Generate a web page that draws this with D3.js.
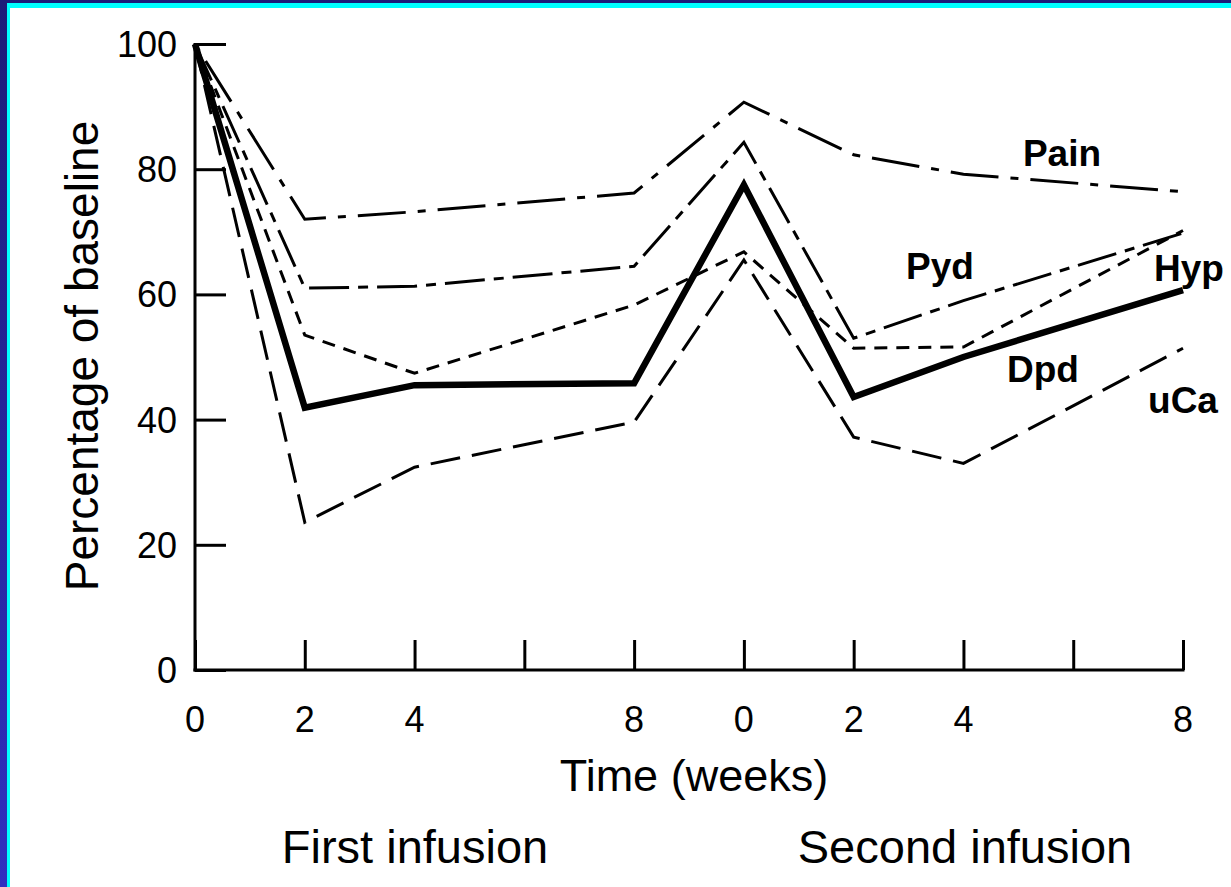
<!DOCTYPE html>
<html>
<head>
<meta charset="utf-8">
<script src="https://cdn.jsdelivr.net/npm/d3@7/dist/d3.min.js"></script>
<style>
  body { margin: 0; background: #fff; }
  svg { display: block; }
</style>
</head>
<body>
<div id="chart-area"></div>
<script>
// Time points: first infusion weeks, then second infusion weeks (offset by 10)
var weekLabels = ["0", "2", "4", "8", "0", "2", "4", "8"];
var weekPos = [0, 2, 4, 8, 10, 12, 14, 18];
var tickPos = [0, 2, 4, 6, 8, 10, 12, 14, 16, 18];
var tickText = ["0", "2", "4", "", "8", "0", "2", "4", "", "8"];
var yTicks = [0, 20, 40, 60, 80, 100];

// Percentage of baseline for each marker
var pain = [100, 72, 73.2, 76.2, 90.7, 82.3, 79.2, 76.4];
var pyd  = [100, 61, 61.3, 64.5, 84.3, 53, 59, 69.8];
var hyp  = [100, 53.5, 47.4, 58.3, 66.8, 51.4, 51.6, 70.2];
var dpd  = [100, 41.9, 45.5, 45.8, 77.5, 43.6, 50, 60.7];
var uca  = [100, 23.6, 32.4, 39.6, 65.5, 37.2, 33, 51.4];

var W = 1231, H = 887;
var x0 = 195, x1 = 1183, yTop = 44, yBot = 670;

var svg = d3.select("#chart-area").append("svg")
    .attr("width", W)
    .attr("height", H);

// Blue frame (top and left edges)
var grad = svg.append("defs").append("linearGradient")
    .attr("id", "navy").attr("x1", 0).attr("y1", 0).attr("x2", 0).attr("y2", 1);
grad.append("stop").attr("offset", "0%").attr("stop-color", "#1c1c78");
grad.append("stop").attr("offset", "100%").attr("stop-color", "#3030c0");

svg.append("rect").attr("width", W).attr("height", H).attr("fill", "url(#navy)");
svg.append("rect").attr("x", 7).attr("y", 3).attr("width", W).attr("height", H).attr("fill", "#00ffff");
svg.append("rect").attr("x", 10).attr("y", 8).attr("width", W).attr("height", H).attr("fill", "#fff");

// Scales
var x = d3.scaleLinear().domain([0, 18]).range([x0, x1]);
var y = d3.scaleLinear().domain([0, 100]).range([yBot, yTop]);

var font = "'Liberation Sans', Arial, sans-serif";

// Axes: ticks point inward
var yAxis = d3.axisRight(y).tickValues(yTicks).tickSize(31).tickFormat("");
var gy = svg.append("g")
    .attr("transform", "translate(" + x0 + ",0)")
    .call(yAxis);
gy.select(".domain").remove();
gy.selectAll("line").attr("stroke", "#000").attr("stroke-width", 3);

svg.append("line")
    .attr("x1", x0).attr("x2", x0)
    .attr("y1", y(100) - 1).attr("y2", y(0) + 1.5)
    .attr("stroke", "#000").attr("stroke-width", 3);

var xAxis = d3.axisTop(x).tickValues(tickPos).tickSize(30).tickFormat("");
var gx = svg.append("g")
    .attr("transform", "translate(0," + yBot + ")")
    .call(xAxis);
gx.select(".domain").remove();
gx.selectAll("line").attr("stroke", "#000").attr("stroke-width", 3);

svg.append("line")
    .attr("x1", x0 - 1.5).attr("x2", x1 + 1.5)
    .attr("y1", yBot).attr("y2", yBot)
    .attr("stroke", "#000").attr("stroke-width", 3);

// Tick labels
svg.selectAll(".ylab").data(yTicks).enter().append("text")
    .attr("class", "ylab")
    .attr("x", 177)
    .attr("y", function(d) { return y(d) + 13; })
    .attr("text-anchor", "end")
    .attr("font-family", font)
    .attr("font-size", "36px")
    .text(function(d) { return d; });

svg.selectAll(".xlab").data(tickPos).enter().append("text")
    .attr("class", "xlab")
    .attr("x", function(d) { return x(d); })
    .attr("y", 732)
    .attr("text-anchor", "middle")
    .attr("font-family", font)
    .attr("font-size", "36px")
    .text(function(d, i) { return tickText[i]; });

// Axis titles
svg.append("text")
    .attr("transform", "translate(98,356) rotate(-90)")
    .attr("text-anchor", "middle")
    .attr("font-family", font)
    .attr("font-size", "46px")
    .text("Percentage of baseline");

svg.append("text")
    .attr("x", 694).attr("y", 791)
    .attr("text-anchor", "middle")
    .attr("font-family", font)
    .attr("font-size", "45px")
    .text("Time (weeks)");

svg.append("text")
    .attr("x", 415).attr("y", 863)
    .attr("text-anchor", "middle")
    .attr("font-family", font)
    .attr("font-size", "47px")
    .text("First infusion");

svg.append("text")
    .attr("x", 965).attr("y", 863)
    .attr("text-anchor", "middle")
    .attr("font-family", font)
    .attr("font-size", "47px")
    .text("Second infusion");

// Lines
var line = d3.line()
    .x(function(d, i) { return x(weekPos[i]); })
    .y(function(d) { return y(d); });

var series = [
    { name: "Pain", values: pain, width: 3, dash: "8,12,48,12" },
    { name: "Pyd",  values: pyd,  width: 3, dash: "40,9,10,9" },
    { name: "Hyp",  values: hyp,  width: 3, dash: "13,9" },
    { name: "uCa",  values: uca,  width: 3, dash: "30,12" },
    { name: "Dpd",  values: dpd,  width: 6.5, dash: null }
];

svg.selectAll(".series").data(series).enter().append("path")
    .attr("class", "series")
    .attr("d", function(d) { return line(d.values); })
    .attr("fill", "none")
    .attr("stroke", "#000")
    .attr("stroke-width", function(d) { return d.width; })
    .attr("stroke-dasharray", function(d) { return d.dash; })
    .attr("stroke-linejoin", "miter");

// Series labels
var labels = [
    { text: "Pain", x: 1062, y: 166 },
    { text: "Pyd",  x: 940,  y: 279 },
    { text: "Hyp",  x: 1189, y: 281 },
    { text: "Dpd",  x: 1043, y: 382 },
    { text: "uCa",  x: 1183, y: 413 }
];

svg.selectAll(".slab").data(labels).enter().append("text")
    .attr("class", "slab")
    .attr("x", function(d) { return d.x; })
    .attr("y", function(d) { return d.y; })
    .attr("text-anchor", "middle")
    .attr("font-family", font)
    .attr("font-weight", "bold")
    .attr("font-size", "37px")
    .text(function(d) { return d.text; });
</script>
</body>
</html>
